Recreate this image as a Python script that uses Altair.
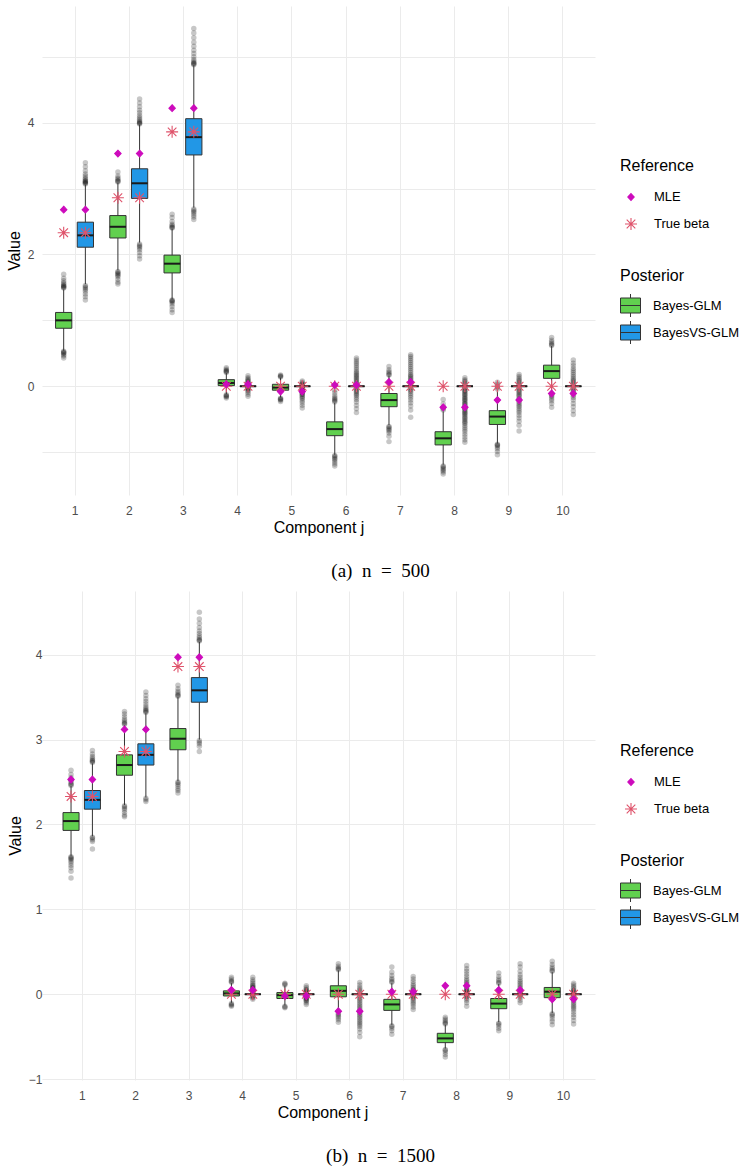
import altair as alt
import pandas as pd

# ---------------- data ----------------
components = [1, 2, 3, 4, 5, 6, 7, 8, 9, 10]
groups = ["Bayes-GLM", "BayesVS-GLM"]
ref_names = ["MLE", "True beta"]

true_beta = [2.33, 2.86, 3.86, 0, 0, 0, 0, 0, 0, 0]

# panel (a) n = 500
a_mle = [2.68, 3.53, 4.22, 0.03, -0.08, 0.02, 0.065, -0.32, -0.21, -0.11]
a_glm_q1 = [0.88, 2.25, 1.72, 0.01, -0.06, -0.75, -0.31, -0.89, -0.58, 0.12]
a_glm_med = [1.00, 2.42, 1.86, 0.05, -0.02, -0.65, -0.21, -0.79, -0.46, 0.23]
a_glm_q3 = [1.12, 2.59, 1.99, 0.10, 0.03, -0.54, -0.11, -0.69, -0.37, 0.32]
a_glm_lo = [0.54, 1.76, 1.32, -0.12, -0.17, -1.04, -0.59, -1.19, -0.87, -0.11]
a_glm_hi = [1.47, 3.09, 2.39, 0.20, 0.13, -0.25, 0.16, -0.38, -0.06, 0.61]
a_vs_q1 = [2.11, 2.85, 3.51, 0, 0, 0, 0, 0, 0, 0]
a_vs_med = [2.29, 3.08, 3.78, 0, 0, 0, 0, 0, 0, 0]
a_vs_q3 = [2.49, 3.30, 4.06, 0, 0, 0, 0, 0, 0, 0]
a_vs_lo = [1.55, 2.18, 2.71, 0, 0, 0, 0, 0, 0, 0]
a_vs_hi = [3.06, 3.97, 4.87, 0, 0, 0, 0, 0, 0, 0]
a_glm_out = [
    [1.49, 1.50, 1.51, 1.52, 1.53, 1.55, 1.57, 1.60, 1.64, 1.70, 0.53, 0.52, 0.51, 0.50, 0.48, 0.46, 0.43],
    [3.10, 3.11, 3.12, 3.14, 3.16, 3.19, 3.25, 1.74, 1.73, 1.71, 1.70, 1.68, 1.66, 1.62, 1.58, 1.55],
    [2.40, 2.41, 2.42, 2.44, 2.46, 2.50, 2.56, 2.61, 1.31, 1.30, 1.29, 1.28, 1.25, 1.21, 1.16, 1.12],
    [0.21, 0.22, 0.23, 0.24, 0.26, 0.28, -0.13, -0.14, -0.15, -0.16, -0.18],
    [0.14, 0.15, 0.16, 0.17, -0.18, -0.19, -0.20, -0.21, -0.23],
    [-0.24, -0.22, -0.21, -0.19, -0.17, -0.14, -0.10, -0.06, -1.05, -1.06, -1.08, -1.10, -1.12, -1.15, -1.18, -1.21],
    [0.17, 0.18, 0.20, 0.22, 0.25, 0.30, -0.61, -0.62, -0.64, -0.66, -0.68, -0.71, -0.76, -0.84],
    [-0.36, -0.34, -0.32, -0.27, -0.20, -1.21, -1.22, -1.24, -1.26, -1.28, -1.30, -1.33],
    [-0.04, -0.02, 0.00, 0.03, 0.06, -0.88, -0.89, -0.90, -0.92, -0.95, -0.99, -1.04],
    [0.62, 0.63, 0.65, 0.67, 0.70, 0.74, -0.12, -0.14, -0.16, -0.19, -0.22, -0.26, -0.32],
]
a_vs_out = [
    [3.07, 3.08, 3.09, 3.10, 3.11, 3.12, 3.14, 3.16, 3.19, 3.22, 3.27, 3.33, 3.39,
     1.53, 1.51, 1.49, 1.47, 1.44, 1.40, 1.36, 1.31],
    [3.98, 3.99, 4.00, 4.01, 4.03, 4.05, 4.08, 4.11, 4.15, 4.19, 4.24, 4.30, 4.36,
     2.16, 2.14, 2.12, 2.10, 2.07, 2.03, 1.98, 1.93],
    [4.88, 4.89, 4.90, 4.91, 4.93, 4.96, 5.00, 5.05, 5.10, 5.16, 5.22, 5.29, 5.36, 5.43,
     2.69, 2.67, 2.65, 2.63, 2.60, 2.57, 2.53],
    [0.16, 0.13, 0.11, 0.09, 0.08, 0.06, 0.05, 0.04, 0.03, 0.02, 0.01, -0.01, -0.02, -0.03,
     -0.04, -0.05, -0.07, -0.09, -0.12, -0.15],
    [0.08, 0.06, 0.04, 0.03, 0.02, 0.01, -0.01, -0.02, -0.03, -0.04, -0.05, -0.06, -0.07, -0.08,
     -0.09, -0.10, -0.12, -0.13, -0.15, -0.17, -0.19, -0.22, -0.25, -0.29, -0.33],
    [0.43, 0.40, 0.37, 0.34, 0.31, 0.28, 0.25, 0.22, 0.20, 0.18, 0.16, 0.14, 0.12, 0.10, 0.08,
     0.06, 0.04, 0.02, -0.02, -0.04, -0.06, -0.08, -0.10, -0.12, -0.14, -0.17, -0.20, -0.24,
     -0.29, -0.34, -0.40],
    [0.48, 0.45, 0.42, 0.39, 0.36, 0.33, 0.30, 0.27, 0.24, 0.21, 0.18, 0.16, 0.14, 0.12, 0.10,
     0.08, 0.06, 0.04, 0.02, -0.02, -0.04, -0.06, -0.08, -0.11, -0.14, -0.17, -0.21, -0.25,
     -0.30, -0.36, -0.47],
    [0.13, 0.10, 0.08, 0.06, 0.04, 0.02, -0.02, -0.03, -0.05, -0.07, -0.08, -0.10, -0.12, -0.13,
     -0.15, -0.17, -0.19, -0.20, -0.22, -0.24, -0.26, -0.27, -0.29, -0.31, -0.33, -0.34, -0.36,
     -0.38, -0.40, -0.41, -0.43, -0.45, -0.47, -0.49, -0.51, -0.53, -0.55, -0.57, -0.60, -0.63,
     -0.66, -0.69, -0.73, -0.77, -0.81, -0.85],
    [0.18, 0.15, 0.12, 0.10, 0.08, 0.06, 0.04, 0.02, -0.02, -0.04, -0.06, -0.08, -0.10, -0.12,
     -0.14, -0.16, -0.19, -0.21, -0.24, -0.26, -0.29, -0.31, -0.34, -0.37, -0.40, -0.44, -0.48,
     -0.53, -0.59, -0.68],
    [0.40, 0.35, 0.31, 0.27, 0.24, 0.21, 0.18, 0.15, 0.12, 0.10, 0.08, 0.06, 0.04, 0.02, -0.02,
     -0.04, -0.06, -0.08, -0.11, -0.14, -0.17, -0.21, -0.26, -0.31, -0.37, -0.43],
]

# panel (b) n = 1500
b_mle = [2.53, 3.12, 3.97, 0.05, -0.02, -0.20, 0.03, 0.10, 0.05, -0.06]
b_glm_q1 = [1.93, 2.58, 2.88, -0.02, -0.05, -0.03, -0.19, -0.57, -0.17, -0.04]
b_glm_med = [2.04, 2.70, 3.01, 0.01, -0.01, 0.04, -0.12, -0.52, -0.11, 0.03]
b_glm_q3 = [2.14, 2.82, 3.13, 0.04, 0.02, 0.10, -0.06, -0.46, -0.05, 0.08]
b_glm_lo = [1.63, 2.23, 2.51, -0.10, -0.13, -0.22, -0.36, -0.64, -0.33, -0.22]
b_glm_hi = [2.45, 3.17, 3.50, 0.13, 0.10, 0.28, 0.13, -0.36, 0.12, 0.26]
b_vs_q1 = [2.18, 2.70, 3.44, 0, 0, 0, 0, 0, 0, 0]
b_vs_med = [2.29, 2.82, 3.58, 0, 0, 0, 0, 0, 0, 0]
b_vs_q3 = [2.40, 2.95, 3.73, 0, 0, 0, 0, 0, 0, 0]
b_vs_lo = [1.86, 2.32, 3.00, 0, 0, 0, 0, 0, 0, 0]
b_vs_hi = [2.72, 3.31, 4.15, 0, 0, 0, 0, 0, 0, 0]
b_glm_out = [
    [2.46, 2.47, 2.48, 2.50, 2.52, 2.55, 2.59, 2.64, 1.62, 1.61, 1.60, 1.59, 1.57, 1.55, 1.52, 1.49, 1.45, 1.37],
    [3.18, 3.19, 3.20, 3.22, 3.24, 3.27, 3.30, 3.33, 2.22, 2.21, 2.19, 2.17, 2.14, 2.11, 2.09],
    [3.51, 3.52, 3.53, 3.55, 3.57, 3.60, 3.64, 2.50, 2.49, 2.47, 2.45, 2.42, 2.40, 2.37],
    [0.14, 0.15, 0.16, 0.18, 0.20, -0.11, -0.12, -0.13, -0.14],
    [0.11, 0.12, 0.13, -0.14, -0.15, -0.16],
    [0.29, 0.30, 0.31, 0.33, 0.36, -0.23, -0.24, -0.26, -0.28, -0.30, -0.33],
    [0.14, 0.15, 0.17, 0.19, 0.22, 0.26, 0.32, -0.37, -0.38, -0.40, -0.43, -0.47],
    [-0.35, -0.34, -0.33, -0.31, -0.29, -0.27, -0.65, -0.66, -0.68, -0.71, -0.74],
    [0.13, 0.14, 0.16, 0.18, 0.21, 0.25, -0.34, -0.35, -0.37, -0.40, -0.43],
    [0.27, 0.28, 0.30, 0.32, 0.35, 0.39, -0.23, -0.24, -0.26, -0.29, -0.32, -0.36],
]
b_vs_out = [
    [2.73, 2.74, 2.75, 2.76, 2.78, 2.80, 2.83, 2.87, 1.85, 1.84, 1.82, 1.80, 1.71],
    [3.32, 3.33, 3.34, 3.35, 3.37, 3.39, 3.42, 3.45, 3.48, 3.52, 3.56, 2.31, 2.29, 2.27],
    [4.16, 4.17, 4.18, 4.20, 4.22, 4.25, 4.28, 4.32, 4.37, 4.42, 4.50, 2.99, 2.97, 2.95, 2.92, 2.86],
    [0.20, 0.17, 0.15, 0.13, 0.11, 0.10, 0.09, 0.08, 0.07, 0.06, 0.05, 0.04, 0.03, 0.02, 0.01,
     -0.01, -0.02, -0.03, -0.04, -0.06],
    [0.10, 0.08, 0.06, 0.05, 0.04, 0.03, 0.02, 0.01, -0.01, -0.02, -0.03, -0.04, -0.05, -0.06,
     -0.07, -0.08, -0.10, -0.12],
    [0.14, 0.11, 0.08, 0.06, 0.04, 0.02, -0.02, -0.04, -0.06, -0.08, -0.10, -0.12, -0.14, -0.16,
     -0.18, -0.20, -0.22, -0.24, -0.26, -0.28, -0.30, -0.32, -0.34, -0.36, -0.38, -0.41, -0.45, -0.50],
    [0.21, 0.18, 0.15, 0.12, 0.10, 0.08, 0.06, 0.05, 0.04, 0.03, 0.02, 0.01, -0.01, -0.02, -0.03,
     -0.04, -0.06, -0.08, -0.10, -0.12, -0.15, -0.18],
    [0.34, 0.30, 0.27, 0.24, 0.21, 0.18, 0.16, 0.14, 0.12, 0.10, 0.08, 0.06, 0.05, 0.04, 0.03,
     0.02, 0.01, -0.01, -0.02, -0.03, -0.05, -0.07, -0.10, -0.14],
    [0.36, 0.32, 0.27, 0.23, 0.20, 0.17, 0.15, 0.13, 0.11, 0.09, 0.07, 0.05, 0.04, 0.03, 0.02,
     0.01, -0.01, -0.02, -0.04, -0.07, -0.10],
    [0.13, 0.11, 0.09, 0.07, 0.05, 0.04, 0.03, 0.02, 0.01, -0.01, -0.02, -0.04, -0.06, -0.08,
     -0.10, -0.12, -0.14, -0.16, -0.18, -0.21, -0.24, -0.27, -0.31, -0.35],
]

# ---------------- styling ----------------
GREEN, BLUE = "#61D04F", "#2297E6"
MLE_C, TRUE_C = "#CD0BBC", "#DF536B"
DIAMOND = "M0,-0.34L0.32,0L0,0.34L-0.32,0Z"
ASTER = "M-0.6,0H0.6M0,-0.6V0.6M-0.43,-0.43L0.43,0.43M-0.43,0.43L0.43,-0.43"
BOXGLYPH = "M-1,-0.75H1V0.75H-1Z M-1,0H1 M0,-0.75V-1.15 M0,0.75V1.15"
OFFSET = {"Bayes-GLM": -0.2, "BayesVS-GLM": 0.2}
HALF = 0.15
FONT = "Liberation Sans"
PANEL_W, PANEL_H = 553, 489

RES_SCALE = dict(x="independent", y="independent", color="independent",
                 fill="independent", stroke="independent", shape="independent")
RES_LEG = dict(color="independent", fill="independent", stroke="independent", shape="independent")


def panel(stats, outs, mle, ydom, grid_vals, label_test, caption, xlo, yoff, xtitle_x):
    box_rows, out_rows, ref_rows = [], [], []
    for g in groups:
        s = stats[g]
        for i, j in enumerate(components):
            p = j + OFFSET[g]
            box_rows.append(dict(group=g, pos=p, left=p - HALF, right=p + HALF,
                                 q1=s[0][i], med=s[1][i], q3=s[2][i], lo=s[3][i], hi=s[4][i]))
            for v in outs[g][i]:
                out_rows.append(dict(pos=p, value=v))
    for g in groups:
        for i, j in enumerate(components):
            ref_rows.append(dict(pos=j + OFFSET[g], value=true_beta[i], ref="True beta"))
    for g in groups:
        for i, j in enumerate(components):
            ref_rows.append(dict(pos=j + OFFSET[g], value=mle[i], ref="MLE"))
    boxes = pd.DataFrame(box_rows)
    outl = pd.DataFrame(out_rows)
    refs = pd.DataFrame(ref_rows)

    xsc = alt.Scale(domain=[xlo, 10.6], nice=False, zero=False)
    ysc = alt.Scale(domain=ydom, nice=False, zero=False)
    xax_kw = dict(values=components, title="Component j", grid=True, format="d")
    if xtitle_x is not None:
        xax_kw["titleX"] = xtitle_x
    xax = alt.Axis(**xax_kw)
    yax = alt.Axis(values=grid_vals, title="Value", grid=True, format="d",
                   labelExpr=label_test, offset=yoff)

    base_out = alt.Chart(outl).mark_circle(color="black", opacity=0.22, size=30).encode(
        x=alt.X("pos:Q", scale=xsc, axis=xax, title="Component j"),
        y=alt.Y("value:Q", scale=ysc, axis=yax, title="Value"),
    )
    whisk = alt.Chart(boxes).mark_rule(color="#333333", strokeWidth=1).encode(
        x=alt.X("pos:Q", scale=xsc, axis=xax, title="Component j"),
        y=alt.Y("lo:Q", scale=ysc, axis=yax, title="Value"),
        y2="hi:Q",
    )
    box = alt.Chart(boxes).mark_bar(stroke="#333333", strokeWidth=1).encode(
        x=alt.X("left:Q", scale=xsc, axis=xax, title="Component j"),
        x2="right:Q",
        y=alt.Y("q1:Q", scale=ysc, axis=yax, title="Value"),
        y2="q3:Q",
        color=alt.Color("group:N", scale=alt.Scale(domain=groups, range=[GREEN, BLUE]),
                        legend=alt.Legend(title="Posterior", orient="none", legendX=578, legendY=262,
                                          symbolType=BOXGLYPH, symbolSize=400,
                                          symbolStrokeColor="#333333", symbolStrokeWidth=1,
                                          rowPadding=0, titlePadding=11, labelOffset=12)),
    )
    med = alt.Chart(boxes).mark_rule(color="#1A1A1A", strokeWidth=2).encode(
        x=alt.X("left:Q", scale=xsc, axis=xax, title="Component j"),
        x2="right:Q",
        y=alt.Y("med:Q", scale=ysc, axis=yax, title="Value"),
    )
    ref_leg = alt.Legend(title="Reference", orient="none", legendX=578, legendY=152,
                         symbolSize=400, symbolStrokeWidth=1.1,
                         rowPadding=9, titlePadding=12, labelOffset=12)
    refpts = alt.Chart(refs).mark_point(size=400, strokeWidth=1.1, opacity=1).encode(
        x=alt.X("pos:Q", scale=xsc, axis=xax, title="Component j"),
        y=alt.Y("value:Q", scale=ysc, axis=yax, title="Value"),
        shape=alt.Shape("ref:N", scale=alt.Scale(domain=ref_names, range=[DIAMOND, ASTER]),
                        legend=ref_leg),
        stroke=alt.Stroke("ref:N", scale=alt.Scale(domain=ref_names, range=[MLE_C, TRUE_C]),
                          legend=ref_leg),
        fill=alt.Fill("ref:N", scale=alt.Scale(domain=ref_names, range=[MLE_C, "transparent"]),
                      legend=ref_leg),
        order=alt.Order("ref:N", sort="descending"),
    )
    return alt.layer(base_out, whisk, box, med, refpts).properties(
        width=PANEL_W, height=PANEL_H,
        title=alt.TitleParams(text=caption, orient="bottom", anchor="middle", frame="group",
                              font="Liberation Serif", fontSize=19, fontWeight="normal",
                              color="black", offset=27, dx=62),
    )


pa = panel(
    {"Bayes-GLM": [a_glm_q1, a_glm_med, a_glm_q3, a_glm_lo, a_glm_hi],
     "BayesVS-GLM": [a_vs_q1, a_vs_med, a_vs_q3, a_vs_lo, a_vs_hi]},
    {"Bayes-GLM": a_glm_out, "BayesVS-GLM": a_vs_out},
    a_mle, [-1.65, 5.77], [-1, 0, 1, 2, 3, 4, 5],
    "datum.value % 2 == 0 ? datum.label : ''",
    "(a)\u2002n\u2002=\u2002500", 0.4, 0, None)
pb = panel(
    {"Bayes-GLM": [b_glm_q1, b_glm_med, b_glm_q3, b_glm_lo, b_glm_hi],
     "BayesVS-GLM": [b_vs_q1, b_vs_med, b_vs_q3, b_vs_lo, b_vs_hi]},
    {"Bayes-GLM": b_glm_out, "BayesVS-GLM": b_vs_out},
    b_mle, [-1.01, 4.75], [-1, -0.5, 0, 0.5, 1, 1.5, 2, 2.5, 3, 3.5, 4, 4.5],
    "datum.value % 1 == 0 ? datum.label : ''",
    "(b)\u2002n\u2002=\u20021500", 0.257, -8, 280.5)

chart = alt.vconcat(pa, pb, spacing=10).resolve_scale(**RES_SCALE).resolve_legend(
    **RES_LEG
).properties(
    padding={"left": 6, "top": 6, "right": 5, "bottom": 2},
).configure_view(strokeWidth=0).configure_axis(
    domain=False, ticks=False, tickSize=0, gridColor="#EBEBEB", gridWidth=1,
    labelFont=FONT, labelFontSize=12, labelColor="#4D4D4D", labelPadding=8,
    titleFont=FONT, titleFontSize=16, titleFontWeight="normal", titleColor="black",
).configure_axisX(titlePadding=3, labelPadding=10).configure_axisY(titlePadding=5).configure_legend(
    titleFont=FONT, titleFontSize=16, titleFontWeight="normal", titleColor="black",
    labelFont=FONT, labelFontSize=13, labelColor="black", padding=0,
)

chart.save("out.html", embed_options={"renderer": "svg", "actions": False})
